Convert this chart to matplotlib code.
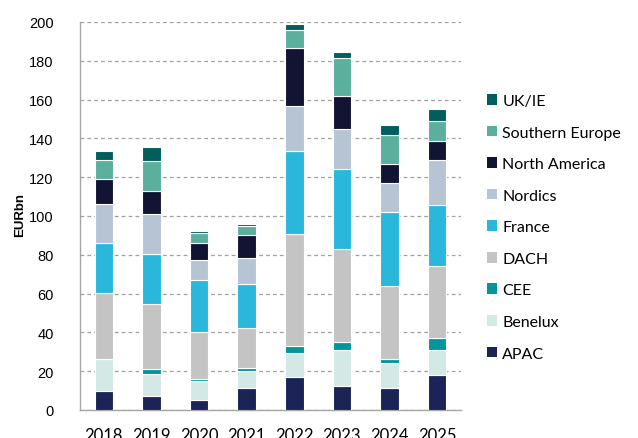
import matplotlib
matplotlib.use("Agg")
import matplotlib.pyplot as plt
import numpy as np
from matplotlib.patches import Patch

years = ["2018", "2019", "2020", "2021", "2022", "2023", "2024", "2025"]
series_names = ["APAC", "Benelux", "CEE", "DACH", "France", "Nordics",
                "North America", "Southern Europe", "UK/IE"]
apac = [9.7, 7.1, 5.0, 11.2, 17.2, 12.4, 11.2, 17.9]
benelux = [16.5, 11.7, 9.7, 9.0, 12.4, 18.6, 12.9, 13.1]
cee = [0.0, 2.1, 1.3, 1.2, 3.3, 4.1, 2.1, 6.2]
dach = [34.0, 33.8, 24.2, 20.8, 57.8, 48.0, 37.8, 37.2]
france = [25.7, 25.8, 26.7, 22.6, 43.0, 41.2, 38.2, 31.5]
nordics = [20.1, 20.7, 10.3, 13.8, 22.9, 20.6, 14.7, 23.2]
north_america = [13.1, 11.7, 8.7, 11.6, 30.0, 17.1, 10.1, 9.6]
southern_europe = [9.7, 15.2, 5.1, 4.5, 9.1, 19.2, 14.5, 10.4]
uk_ie = [4.8, 7.4, 1.4, 1.0, 3.4, 3.5, 5.3, 6.1]
yticks = [0, 20, 40, 60, 80, 100, 120, 140, 160, 180, 200]

series = [apac, benelux, cee, dach, france, nordics, north_america,
          southern_europe, uk_ie]
colors = ["#1B2357", "#D3E9E5", "#00969B", "#C4C4C4", "#29B8DB",
          "#B7C4D4", "#111432", "#5BAF9D", "#005E5C"]

W, H = 638, 439
fig = plt.figure(figsize=(W / 100, H / 100), dpi=100)
ax = fig.add_axes([80 / W, 1 - 411 / H, (461 - 80) / W, (411 - 23) / H])

x = np.arange(len(years))
bottom = np.zeros(len(years))
for vals, col, name in zip(series, colors, series_names):
    v = np.array(vals)
    ax.bar(x, v, 0.39, bottom=bottom, color=col, edgecolor="white",
           linewidth=0.8, label=name, zorder=3)
    bottom += v

ax.set_xlim(-0.5, 7.5)
ax.set_ylim(0, 200)
ax.set_yticks(yticks)
ax.set_xticks(x)
ax.set_xticklabels(years, fontsize=12, family=["Lato", "DejaVu Sans"])
ax.set_yticklabels([str(t) for t in yticks], fontsize=10.5,
                   family=["Liberation Sans Narrow", "Liberation Sans"])
ax.tick_params(axis="y", length=0, pad=19, colors="#000000")
ax.tick_params(axis="x", length=0, pad=12)
ax.yaxis.grid(True, linestyle=(0, (3, 2.5)), color="#A0A0A0", linewidth=0.9, zorder=0)
ax.set_axisbelow(True)
for s in ["top", "right"]:
    ax.spines[s].set_visible(False)
for s in ["left", "bottom"]:
    ax.spines[s].set_color("#A6A6A6")
    ax.spines[s].set_linewidth(1.0)

fig.text(20 / W, 1 - 215 / H, "EURbn", rotation=90, ha="center", va="center",
         fontsize=9.5, fontweight="bold",
         family=["Liberation Sans Narrow", "Liberation Sans"])

handles = [Patch(facecolor=c, edgecolor="none", label=n)
           for c, n in zip(colors, series_names)][::-1]
fig.legend(handles=handles, loc="upper left",
           bbox_to_anchor=(487 / W, 1 - 95 / H), frameon=False,
           prop={"family": ["Lato", "DejaVu Sans"], "size": 11.5},
           handlelength=0.65, handleheight=0.65, handletextpad=0.3,
           labelspacing=1.1, borderpad=0, borderaxespad=0)

fig.savefig("out.png", dpi=100)
